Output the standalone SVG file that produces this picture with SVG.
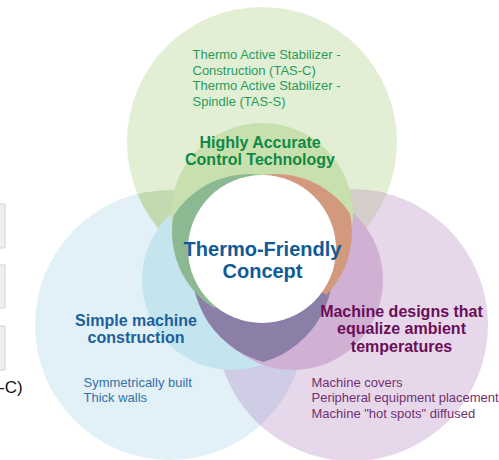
<svg xmlns="http://www.w3.org/2000/svg" width="499" height="460" viewBox="0 0 499 460">
<defs>
<style>
text{font-family:"Liberation Sans",Arial,Helvetica,sans-serif}
.hd{font-weight:bold;font-size:16px;text-anchor:middle}
.sm{font-size:13px}
.grn{fill:#2a9b5a}
.grnh{fill:#0e8a47}
.blu{fill:#1d5f9c}
.blus{fill:#3470a8}
.pur{fill:#6b0d58}
.purs{fill:#72306e}
.ctr{fill:#0f5a97;font-weight:bold;font-size:20px;text-anchor:middle}
.frag{fill:#efefef;stroke:#d4d4d4;stroke-width:1}
</style>
<clipPath id="cG"><circle cx="262" cy="142" r="135"/></clipPath>
<clipPath id="cB"><circle cx="170" cy="325" r="135"/></clipPath>
<clipPath id="cg2"><circle cx="262" cy="232" r="90"/></clipPath>
<clipPath id="cb3"><circle cx="236" cy="269" r="97"/></clipPath>
<clipPath id="wDG"><polygon points="0,0 262.5,0 262.5,249 160,376 0,376"/></clipPath>
<clipPath id="wOR"><polygon points="262.5,0 499,0 499,420 262.5,249"/></clipPath>
</defs>
<g id="venn">
<circle cx="262" cy="142" r="135" fill="#e3efd5"/>
<circle cx="170" cy="325" r="135" fill="#e1f1f7"/>
<circle cx="352" cy="325" r="136" fill="#e6d8ea"/>
<g clip-path="url(#cG)"><circle cx="170" cy="325" r="135" fill="#c2dab0"/><circle cx="352" cy="325" r="136" fill="#d5cdca"/></g>
<g clip-path="url(#cB)"><circle cx="352" cy="325" r="136" fill="#cfcde5"/></g>
<circle cx="232" cy="280" r="90" fill="#c4e4ee"/>
<circle cx="293" cy="280" r="90" fill="#d0b1d4"/>
<circle cx="262" cy="214" r="91" fill="#c8e0ad"/>
<g clip-path="url(#cb3)"><circle cx="289" cy="268.5" r="97" fill="#8b7fa8"/></g>
<g clip-path="url(#wDG)"><g clip-path="url(#cg2)"><circle cx="249.5" cy="264" r="90" fill="#8cb892"/></g></g>
<g clip-path="url(#wOR)"><g clip-path="url(#cg2)"><circle cx="275.5" cy="264" r="90" fill="#d3997c"/></g></g>
<circle cx="262" cy="249" r="74" fill="#ffffff"/>
</g>
<g id="node-control">
<text class="sm grn"><tspan x="192.5" y="59">Thermo Active Stabilizer -</tspan><tspan x="192.5" y="74.5">Construction (TAS-C)</tspan><tspan x="192.5" y="90">Thermo Active Stabilizer -</tspan><tspan x="192.5" y="105.5">Spindle (TAS-S)</tspan></text>
<text class="hd grnh"><tspan x="260" y="147.5">Highly Accurate</tspan><tspan x="260" y="165">Control Technology</tspan></text>
</g>
<g id="node-construction">
<text class="hd blu"><tspan x="136" y="325.5">Simple machine</tspan><tspan x="136" y="343">construction</tspan></text>
<text class="sm blus"><tspan x="83.5" y="386.5">Symmetrically built</tspan><tspan x="83.5" y="402">Thick walls</tspan></text>
</g>
<g id="node-ambient">
<text class="hd pur"><tspan x="401.5" y="316.5">Machine designs that</tspan><tspan x="401.5" y="334">equalize ambient</tspan><tspan x="401.5" y="351.5">temperatures</tspan></text>
<text class="sm purs"><tspan x="311.5" y="386.5">Machine covers</tspan><tspan x="311.5" y="402">Peripheral equipment placement</tspan><tspan x="311.5" y="417.5">Machine "hot spots" diffused</tspan></text>
</g>
<g id="node-center">
<text class="ctr"><tspan x="262.5" y="256">Thermo-Friendly</tspan><tspan x="262.5" y="278">Concept</tspan></text>
</g>
<g id="page-fragments">
<rect class="frag" x="-10" y="204" width="15" height="44"/>
<rect class="frag" x="-10" y="265" width="15" height="43"/>
<rect class="frag" x="-10" y="326" width="15" height="44"/>
<text x="-1" y="393" font-size="17" fill="#111111">-C)</text>
</g>
<g id="connectors"/>
</svg>
